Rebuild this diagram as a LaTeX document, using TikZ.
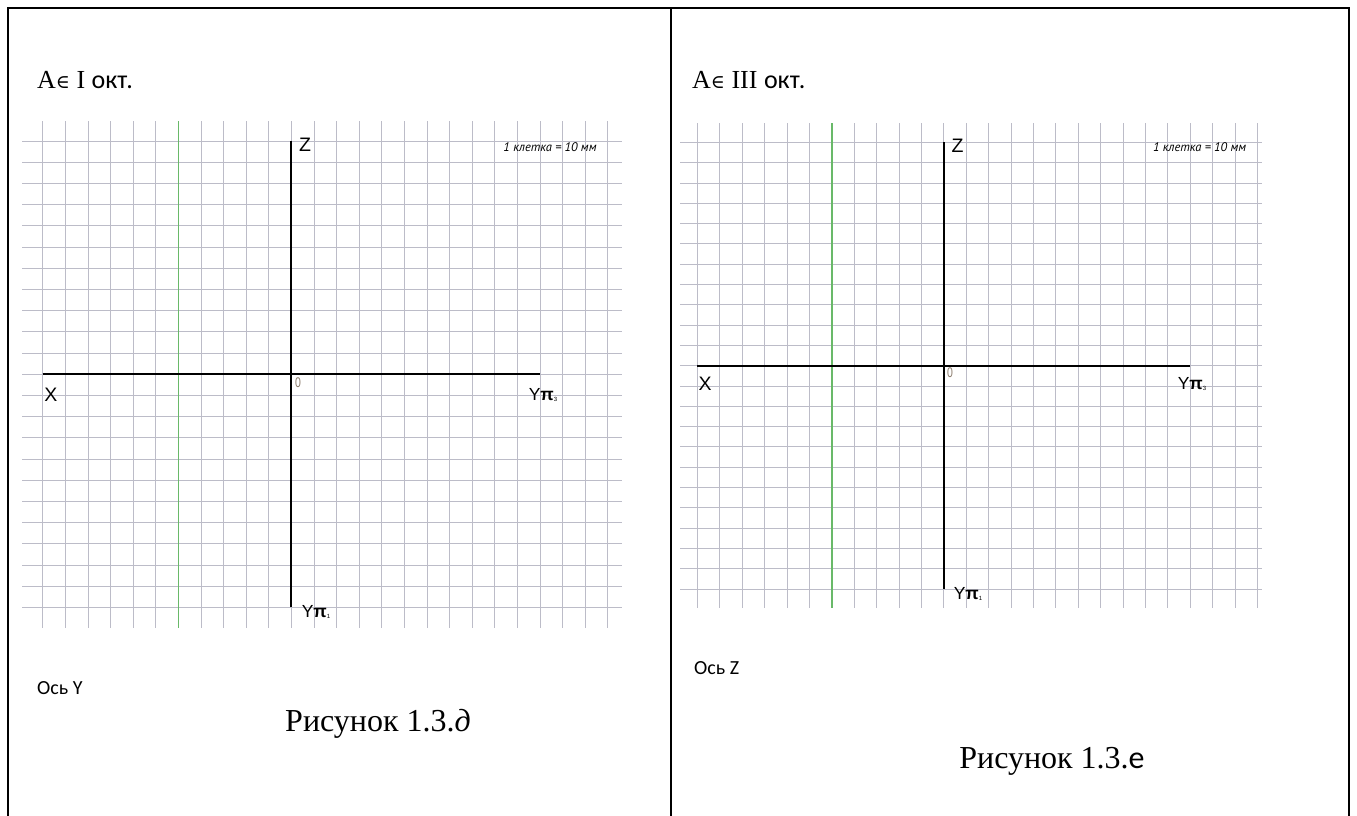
\documentclass[tikz,border=0pt]{standalone}
\usepackage{fontspec}
\setmainfont{Liberation Serif}
\newfontfamily\carl{Carlito}
\newfontfamily\lsans{Liberation Sans}
\newfontfamily\ptsans{PT Sans}
\newfontfamily\djserif{DejaVu Serif}
\definecolor{gridc}{RGB}{188,188,200}
\definecolor{gridg}{RGB}{105,185,105}
\definecolor{zeroc}{RGB}{140,125,110}
\tikzset{
  gridline/.style={draw=gridc, line width=0.8pt},
  greenline/.style={draw=gridg, line width=1.2pt},
  axisline/.style={draw=black, line width=2pt},
  frameline/.style={draw=black, line width=2.6pt},
  axlbl/.style={inner sep=0pt, font=\lsans\fontsize{19.5}{19.5}\selectfont},
  ylbl/.style={inner sep=0pt, font=\lsans\fontsize{17.5}{17.5}\selectfont},
  zerolbl/.style={inner sep=0pt, text=zeroc, font=\lsans\fontsize{14}{14}\selectfont, xscale=0.75},
  scalelbl/.style={inner sep=0pt, font=\ptsans\itshape\fontsize{12.5}{12.5}\selectfont},
  titlelbl/.style={inner sep=0pt, anchor=west, font=\fontsize{26}{26}\selectfont},
  oslbl/.style={inner sep=0pt, anchor=west, font=\carl\fontsize{20}{20}\selectfont},
  caplbl/.style={inner sep=0pt, font=\fontsize{32}{32}\selectfont},
}
\newcommand\ypisub[1]{Y{\bfseries π}\raisebox{-1pt}{\fontsize{6}{6}\selectfont #1}}
% #1 x0, #2 dx, #3 y0, #4 dy, #5 h-left, #6 h-right, #7 v-top, #8 v-bottom
\newcommand\drawpanelgrid[8]{%
  \foreach \j in {0,...,22} \draw[gridline] (#5,{#3+#4*\j}) -- (#6,{#3+#4*\j});
  \foreach \i in {0,...,25} \draw[gridline] ({#1+#2*\i},#7) -- ({#1+#2*\i},#8);
}
\begin{document}
\begin{tikzpicture}[x=1pt,y=-1pt]
\useasboundingbox (0,0) rectangle (1357,816);
\fill[white] (0,0) rectangle (1357,816);

% frame
\coordinate (FBL) at (8,840);
\coordinate (FTL) at (8,8);
\coordinate (FTR) at (1349,8);
\coordinate (FBR) at (1349,840);
\coordinate (FMT) at (671,8);
\coordinate (FMB) at (671,840);
\draw[frameline] (FBL) -- (FTL) -- (FTR) -- (FBR);
\draw[frameline] (FMT) -- (FMB);

% ---------------- left panel ----------------
\drawpanelgrid{42.7}{22.6}{141}{21.2}{22}{622}{121}{628}
\coordinate (LGa) at (178.3,121);
\coordinate (LGb) at (178.3,628);
\draw[greenline] (LGa) -- (LGb);
\coordinate (LXa) at (42.7,374.2);
\coordinate (LXb) at (539.9,374.2);
\coordinate (LZa) at (291.3,141);
\coordinate (LZb) at (291.3,607.4);
\draw[axisline] (LXa) -- (LXb);
\draw[axisline] (LZa) -- (LZb);

\node[titlelbl] (LT) at (37,80) {A{\djserif\fontsize{19}{19}\selectfont ∈} I {\carl окт.}};
\node[axlbl] (LZ) at (305,145) {Z};
\node[axlbl] (LX) at (51,395) {X};
\node[zerolbl] (L0) at (298,383) {0};
\node[ylbl] (LY3) at (543,395) {\ypisub{3}};
\node[ylbl] (LY1) at (316,612) {\ypisub{1}};
\node[scalelbl] (LS) at (550,147.5) {1 клетка = 10 мм};
\node[oslbl] (LO) at (37,688) {Ось Y};
\node[caplbl] (LC) at (378,724) {Рисунок 1.3.{\itshape д}};

% ---------------- right panel ----------------
\drawpanelgrid{697.3}{22.4}{142.3}{20.3}{680}{1262}{123}{608}
\coordinate (RGa) at (832,123);
\coordinate (RGb) at (832,608);
\draw[greenline] (RGa) -- (RGb);
\coordinate (RXa) at (697.3,365.6);
\coordinate (RXb) at (1190.1,365.6);
\coordinate (RZa) at (943.7,142.3);
\coordinate (RZb) at (943.7,589.3);
\draw[axisline] (RXa) -- (RXb);
\draw[axisline] (RZa) -- (RZb);

\node[titlelbl] (RT) at (692,80) {A{\djserif\fontsize{19}{19}\selectfont ∈} III {\carl окт.}};
\node[axlbl] (RZ) at (957.5,146) {Z};
\node[axlbl] (RX) at (705,384) {X};
\node[zerolbl] (R0) at (950,373) {0};
\node[ylbl] (RY3) at (1192,384) {\ypisub{3}};
\node[ylbl] (RY1) at (968,593.5) {\ypisub{1}};
\node[scalelbl] (RS) at (1199.5,147) {1 клетка = 10 мм};
\node[oslbl] (RO) at (694,668) {Ось Z};
\node[caplbl] (RC) at (1052,761) {Рисунок 1.3.{\carl е}};
\end{tikzpicture}
\end{document}
